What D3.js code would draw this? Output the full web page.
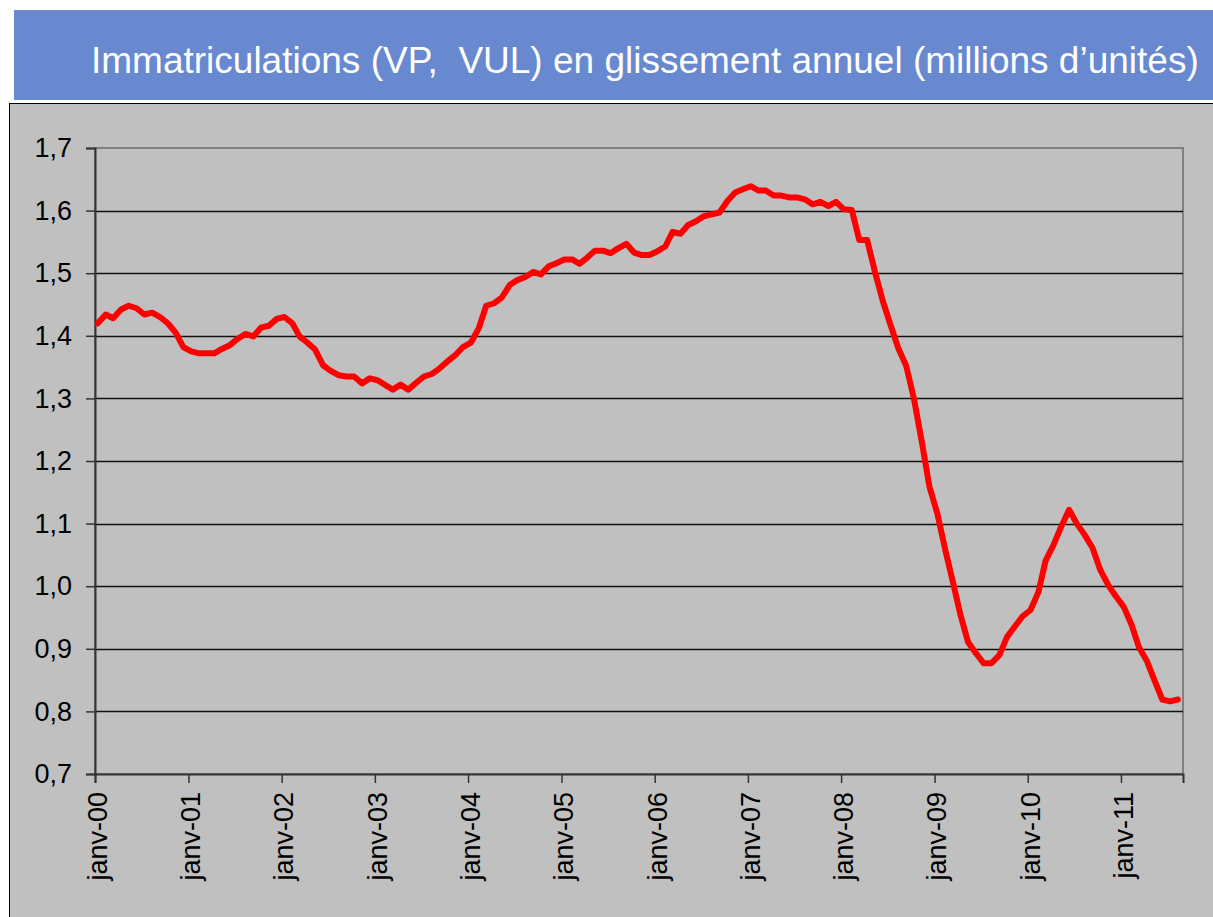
<!DOCTYPE html>
<html>
<head>
<meta charset="utf-8">
<script src="https://cdn.jsdelivr.net/npm/d3@7"></script>
<style>
	body { margin: 0; background: #fff; }
	svg { display: block; font-family: "Liberation Sans", Arial, sans-serif; }
</style>
</head>
<body>
<div id="chart"></div>
<script>
(function() {
	"use strict";

	var title = "Immatriculations (VP,  VUL) en glissement annuel (millions d\u2019unit\u00e9s)";

	// monthly values, janv-2000 .. août-2011
	var values = [
		1.420, 1.434, 1.428, 1.442, 1.448, 1.444, 1.434, 1.437, 1.430, 1.420, 1.405, 1.382,
		1.375, 1.372, 1.372, 1.372, 1.379, 1.385, 1.395, 1.403, 1.399, 1.413, 1.416, 1.427,
		1.430, 1.420, 1.399, 1.389, 1.378, 1.353, 1.344, 1.337, 1.335, 1.335, 1.324, 1.332,
		1.329, 1.321, 1.314, 1.322, 1.314, 1.325, 1.335, 1.339, 1.348, 1.359, 1.369, 1.382,
		1.389, 1.412, 1.448, 1.452, 1.461, 1.481, 1.489, 1.494, 1.502, 1.498, 1.511, 1.516,
		1.522, 1.522, 1.515, 1.525, 1.536, 1.536, 1.532, 1.540, 1.547, 1.533, 1.529, 1.529,
		1.535, 1.543, 1.566, 1.563, 1.577, 1.583, 1.591, 1.594, 1.597, 1.615, 1.629, 1.634,
		1.639, 1.632, 1.632, 1.624, 1.624, 1.621, 1.621, 1.618, 1.610, 1.614, 1.607, 1.614,
		1.602, 1.601, 1.553, 1.553, 1.503, 1.456, 1.418, 1.380, 1.352, 1.300, 1.231, 1.159,
		1.116, 1.058, 1.010, 0.955, 0.911, 0.893, 0.877, 0.877, 0.890, 0.919, 0.936, 0.952,
		0.962, 0.991, 1.041, 1.066, 1.095, 1.122, 1.100, 1.082, 1.061, 1.026, 1.002, 0.984,
		0.967, 0.938, 0.903, 0.881, 0.850, 0.819, 0.816, 0.819
	];

	var xLabels = ["janv-00", "janv-01", "janv-02", "janv-03", "janv-04", "janv-05",
		"janv-06", "janv-07", "janv-08", "janv-09", "janv-10", "janv-11"];

	var yTicks = [0.7, 0.8, 0.9, 1.0, 1.1, 1.2, 1.3, 1.4, 1.5, 1.6, 1.7];

	var width = 1213, height = 917;
	var left = 95, right = 1183, top = 148, bottom = 774;

	var fr = d3.formatLocale({ decimal: ",", thousands: " ", grouping: [3], currency: ["", " €"] });
	var fmt = fr.format(".1f");

	var svg = d3.select("#chart").append("svg")
		.attr("width", width)
		.attr("height", height);

	// title band
	svg.append("rect")
		.attr("x", 14).attr("y", 10)
		.attr("width", width - 14).attr("height", 90)
		.attr("fill", "#6888cf");

	svg.append("text")
		.attr("x", 91).attr("y", 73)
		.attr("fill", "#fff")
		.style("font-size", "37px")
		.style("white-space", "pre")
		.text(title);

	// chart panel
	svg.append("rect")
		.attr("x", 9.5).attr("y", 103.5)
		.attr("width", width + 10).attr("height", height)
		.attr("fill", "#c0c0c0")
		.attr("stroke", "#000")
		.attr("stroke-width", 1);

	var x = d3.scaleTime()
		.domain([new Date(2000, 0, 1), new Date(2011, 8, 1)])
		.range([left, right]);

	var y = d3.scaleLinear()
		.domain([0.7, 1.7])
		.range([bottom, top]);

	var data = values.map(function(v, i) {
		return { date: new Date(2000, i, 12), value: v };
	});

	// plot border
	svg.append("rect")
		.attr("x", left).attr("y", top)
		.attr("width", right - left).attr("height", bottom - top)
		.attr("fill", "none")
		.attr("stroke", "#808080")
		.attr("stroke-width", 2);

	// gridlines
	svg.append("g")
		.selectAll("line")
		.data(yTicks.slice(1, -1))
		.enter()
		.append("line")
		.attr("x1", left).attr("x2", right)
		.attr("y1", function(d) { return Math.round(y(d)) + 0.5; })
		.attr("y2", function(d) { return Math.round(y(d)) + 0.5; })
		.attr("stroke", "#111")
		.attr("stroke-width", 1.3);

	// y axis
	var yAxis = svg.append("g")
		.attr("transform", "translate(" + left + ",0)")
		.call(d3.axisLeft(y)
			.tickValues(yTicks)
			.tickFormat(fmt)
			.tickSize(9)
			.tickPadding(14));

	// x axis
	var years = d3.timeYear.range(new Date(2000, 0, 1), new Date(2011, 1, 1));
	var xAxis = svg.append("g")
		.attr("transform", "translate(0," + bottom + ")")
		.call(d3.axisBottom(x)
			.tickValues(years)
			.tickFormat(function(d, i) { return xLabels[i]; })
			.tickSize(9));

	xAxis.selectAll("text")
		.attr("transform", "rotate(-90)")
		.attr("text-anchor", "end")
		.attr("x", -18)
		.attr("y", 0)
		.attr("dy", "0.42em");

	[xAxis, yAxis].forEach(function(g) {
		g.select(".domain").attr("stroke", "#333").attr("stroke-width", 2);
		g.selectAll(".tick line").attr("stroke", "#333").attr("stroke-width", 1.5);
		g.selectAll("text")
			.attr("fill", "#000")
			.style("font-size", "27px")
			.style("font-family", "'Liberation Sans', Arial, sans-serif");
	});

	// series
	var line = d3.line()
		.x(function(d) { return x(d.date); })
		.y(function(d) { return y(d.value); });

	svg.append("path")
		.datum(data)
		.attr("d", line)
		.attr("fill", "none")
		.attr("stroke", "#ff0000")
		.attr("stroke-width", 6)
		.attr("stroke-linejoin", "round")
		.attr("stroke-linecap", "round");

})();
</script>
</body>
</html>
